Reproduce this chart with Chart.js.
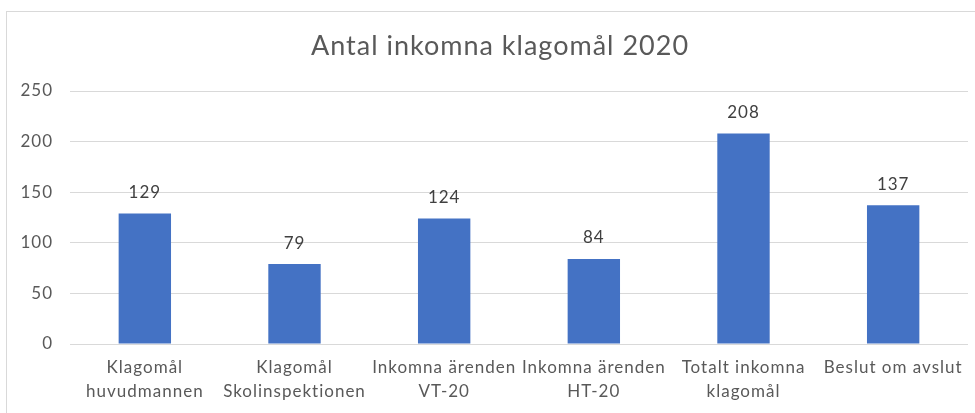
<!DOCTYPE html>
<html>
<head>
<meta charset="utf-8">
<script src="https://cdn.jsdelivr.net/npm/chart.js@4"></script>
<style>
  html, body { margin: 0; padding: 0; background: #fff; overflow: hidden; }
  #frame { position: absolute; left: 6px; top: 11px; width: 1000px; height: 500px; border: 1px solid #d9d9d9; }
  #wrap { position: absolute; left: 0; top: 0; width: 975px; height: 413px; }
</style>
</head>
<body>
<div id="frame"></div>
<div id="wrap"><canvas id="chart"></canvas></div>
<script>
const categories = [
  ['Klagomål', 'huvudmannen'],
  ['Klagomål', 'Skolinspektionen'],
  ['Inkomna ärenden', 'VT-20'],
  ['Inkomna ärenden', 'HT-20'],
  ['Totalt inkomna', 'klagomål'],
  ['Beslut om avslut']
];
const values = [129, 79, 124, 84, 208, 137];
const chartTitle = 'Antal inkomna klagomål 2020';

const fontFamily = 'Lato, "Open Sans", sans-serif';

// lite bredare text, som i originalet
const spacing = {
  id: 'spacing',
  beforeDraw(chart) {
    chart.ctx.letterSpacing = '1px';
  }
};

// rubriken centreras över ramen, inte över canvasen
const frameTitle = {
  id: 'frameTitle',
  afterDraw(chart) {
    const ctx = chart.ctx;
    ctx.save();
    ctx.font = '27px ' + fontFamily;
    ctx.fillStyle = '#595959';
    ctx.textAlign = 'center';
    ctx.textBaseline = 'middle';
    ctx.fillText(chartTitle, 500, 46);
    ctx.restore();
  }
};

// skriver värdet ovanför varje stapel
const valueLabels = {
  id: 'valueLabels',
  afterDatasetsDraw(chart) {
    const ctx = chart.ctx;
    const meta = chart.getDatasetMeta(0);
    ctx.save();
    ctx.font = '17px ' + fontFamily;
    ctx.fillStyle = '#404040';
    ctx.textAlign = 'center';
    ctx.textBaseline = 'middle';
    meta.data.forEach((bar, i) => {
      ctx.fillText(values[i], bar.x, bar.y - 21);
    });
    ctx.restore();
  }
};

new Chart(document.getElementById('chart').getContext('2d'), {
  type: 'bar',
  data: {
    labels: categories,
    datasets: [{
      data: values,
      backgroundColor: '#4472c4',
      categoryPercentage: 1,
      barPercentage: 0.35
    }]
  },
  options: {
    responsive: true,
    maintainAspectRatio: false,
    animation: false,
    layout: { padding: { left: 0, right: 7, top: 91, bottom: 0 } },
    plugins: {
      legend: { display: false },
      tooltip: { enabled: false },
      title: { display: false }
    },
    scales: {
      x: {
        grid: { display: false, drawTicks: false },
        border: { display: false },
        ticks: {
          color: '#595959',
          font: { family: fontFamily, size: 17, lineHeight: 1.4 },
          maxRotation: 0,
          autoSkip: false,
          padding: 12
        },
        afterFit: s => { s.height = 69; }
      },
      y: {
        min: 0,
        max: 250,
        border: { display: false },
        grid: { color: '#d9d9d9', drawTicks: false },
        ticks: {
          stepSize: 50,
          color: '#595959',
          font: { family: fontFamily, size: 17 },
          padding: 17
        },
        afterFit: s => { s.width = 70; }
      }
    }
  },
  plugins: [spacing, valueLabels, frameTitle]
});
</script>
</body>
</html>
